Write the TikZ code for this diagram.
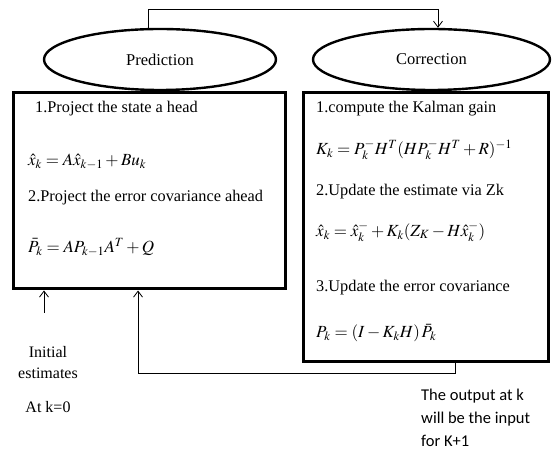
\documentclass[tikz,border=0pt]{standalone}
\usepackage{amsmath}
\usepackage{mathptmx}
\usepackage{fontspec}
\setmainfont{Liberation Serif}
\newfontfamily\notefont{Carlito}
\usepackage{tikz}
\usetikzlibrary{arrows.meta, positioning, calc, shapes.geometric}

\begin{document}
\begin{tikzpicture}[
    x=1pt, y=1pt,
    stage/.style={draw, ellipse, line width=2.4pt, minimum width=#1, minimum height=61pt, font=\fontsize{16.5}{19}\selectfont},
    panel/.style={draw, line width=3pt, minimum width=#1, inner sep=0pt},
    steptext/.style={anchor=west, inner sep=0pt, font=\fontsize{16.3}{19}\selectfont},
    eqn/.style={anchor=west, inner sep=0pt, font=\fontsize{17}{20}\selectfont},
    flow/.style={->, line width=0.8pt},
    >={Straight Barb[length=6pt, width=9pt]},
]
    \useasboundingbox (0,0) rectangle (553,452);

    % Boxes
    \node[panel=272pt, minimum height=196pt] (lbox) at (149, 261) {};
    \node[panel=245pt, minimum height=268pt] (rbox) at (425.5, 225) {};

    % Stage ellipses
    \node[stage=232pt] (pred) at (160, 392.5) {Prediction};
    \node[stage=237pt] (corr) at (431.5, 392.5) {Correction};

    % Prediction steps
    \node[steptext] (p1) at (35, 343) {1.Project the state a head};
    \node[eqn] (pe1) at (28, 290) {$\hat{x}_k = A\hat{x}_{k-1} + Bu_k$};
    \node[steptext] (p2) at (28, 254) {2.Project the error covariance ahead};
    \node[eqn] (pe2) at (28, 205) {$\bar{P}_k = AP_{k-1}A^T + Q$};

    % Correction steps
    \node[steptext] (c1) at (316, 343) {1.compute the Kalman gain};
    \node[eqn] (ce1) at (316, 302) {$K_k = P_k^{-}H^T(HP_k^{-}H^T + R)^{-1}$};
    \node[steptext] (c2) at (316, 260) {2.Update the estimate via Zk};
    \node[eqn] (ce2) at (316, 220) {$\hat{x}_k = \hat{x}_k^{-} + K_k(Z_K - H\hat{x}_k^{-})$};
    \node[steptext] (c3) at (316, 164) {3.Update the error covariance};
    \node[eqn] (ce3) at (316, 119) {$P_k = (I - K_kH)\,\bar{P}_k$};

    % Initial estimates
    \node[font=\fontsize{16}{19}\selectfont, inner sep=0pt] (init1) at (48, 100) {Initial};
    \node[font=\fontsize{16}{19}\selectfont, inner sep=0pt] (init2) at (48, 79) {estimates};
    \node[font=\fontsize{16}{19}\selectfont, inner sep=0pt] (init3) at (48, 45) {At k=0};
    \coordinate (start) at (44, 139);

    % Output note
    \node[anchor=north west, align=left, inner sep=0pt, font=\notefont\fontsize{16.5}{23}\selectfont] (note) at (421, 63) {The output at k\\will be the input\\for K+1};

    % Connectors
    \draw[flow] ([xshift=-12pt]pred.north) -- ++(0,18.5) -| ([xshift=6.5pt]corr.north);
    \draw[flow] (start) -- (start |- lbox.south);
    \draw[flow] ([xshift=29.5pt]rbox.south) -- ++(0,-11) -| ([xshift=-11pt]lbox.south);
\end{tikzpicture}
\end{document}
